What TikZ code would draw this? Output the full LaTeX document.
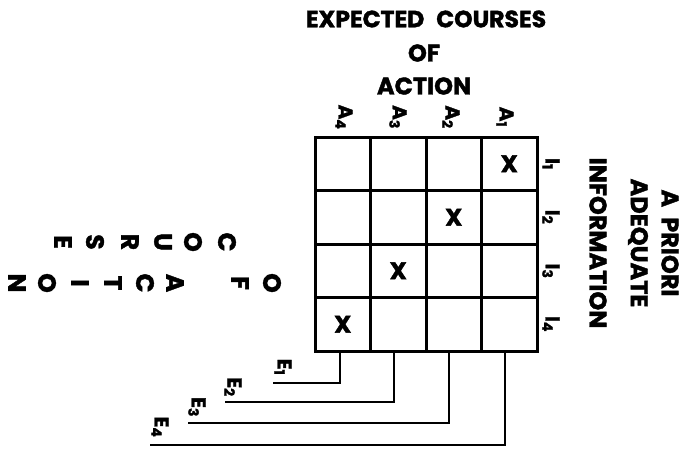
\documentclass[tikz,border=0pt]{standalone}
\usepackage{fontspec}
\setmainfont{Poppins}[BoldFeatures={FakeBold=1.6}]
\begin{document}
\begin{tikzpicture}[x=1pt,y=-1pt,
  big/.style={font=\fontsize{24}{26}\selectfont\bfseries, inner sep=0pt},
  lab/.style={font=\fontsize{20}{21}\selectfont\bfseries, rotate=-90, inner sep=0pt},
  letter/.style={font=\fontsize{25}{26}\selectfont\bfseries, rotate=-90, inner sep=0pt},
  cell/.style={draw, line width=3pt, minimum width=55.5pt, minimum height=53.5pt, inner sep=0pt, outer sep=0pt,
     font=\fontsize{24}{24}\selectfont\bfseries},
  conn/.style={line width=2.2pt}]
\useasboundingbox (0,0) rectangle (689,448);

% grid
\foreach \r in {1,...,4}{
  \foreach \c in {1,...,4}{
    \pgfmathsetmacro{\cx}{342.75+55.5*(\c-1)}
    \pgfmathsetmacro{\cy}{163.75+53.5*(\r-1)}
    \pgfmathtruncatemacro{\d}{5-\c}
    \ifnum\r=\d
      \node[cell] (c\r\c) at (\cx,\cy) {X};
    \else
      \node[cell] (c\r\c) at (\cx,\cy) {};
    \fi
  }
}

% top title
\node[big, font=\fontsize{23.5}{26}\selectfont\bfseries] (t1) at (426,19) {EXPECTED\hspace{7pt} COURSES};
\node[big] (t2) at (424,53) {OF};
\node[big] (t3) at (424,86) {ACTION};

% right title
\node[big, rotate=-90] (r1) at (670,243) {A\hspace{5pt} PRIORI};
\node[big, rotate=-90] (r2) at (638,243) {ADEQUATE};
\node[big, rotate=-90] (r3) at (598,243) {INFORMATION};

% column labels
\node[lab] (a4) at (344,117) {A\textsubscript{4}};
\node[lab] (a3) at (398,117) {A\textsubscript{3}};
\node[lab] (a2) at (451,117) {A\textsubscript{2}};
\node[lab] (a1) at (505,117) {A\textsubscript{1}};

% row labels
\node[lab] (i1) at (551,164) {I\textsubscript{1}};
\node[lab] (i2) at (551,217) {I\textsubscript{2}};
\node[lab] (i3) at (551,271) {I\textsubscript{3}};
\node[lab] (i4) at (551,324) {I\textsubscript{4}};

% E connectors
\coordinate (e1) at (273,383);
\coordinate (e2) at (225,402);
\coordinate (e3) at (188,423);
\coordinate (e4) at (150,445);
\draw[conn] ([xshift=-2.5pt]c41.south) |- (e1);
\draw[conn] ([xshift=-4pt]c42.south) |- (e2);
\draw[conn] ([xshift=-4.5pt]c43.south) |- (e3);
\draw[conn] ([xshift=-4pt]c44.south) |- (e4);
\node[lab] (le1) at (283,367) {E\textsubscript{1}};
\node[lab] (le2) at (233,387) {E\textsubscript{2}};
\node[lab] (le3) at (197,407) {E\textsubscript{3}};
\node[lab] (le4) at (160,427) {E\textsubscript{4}};

% left rotated letters
\foreach \ch/\x [count=\i] in {C/227,O/193,U/163,R/130,S/95,E/63}
  \node[letter] (la\i) at (\x,242) {\ch};
\foreach \ch/\x [count=\i] in {O/272,F/240,A/175,C/145,T/113,I/80,O/47,N/17}
  \node[letter] (lb\i) at (\x,283) {\ch};
\end{tikzpicture}
\end{document}
